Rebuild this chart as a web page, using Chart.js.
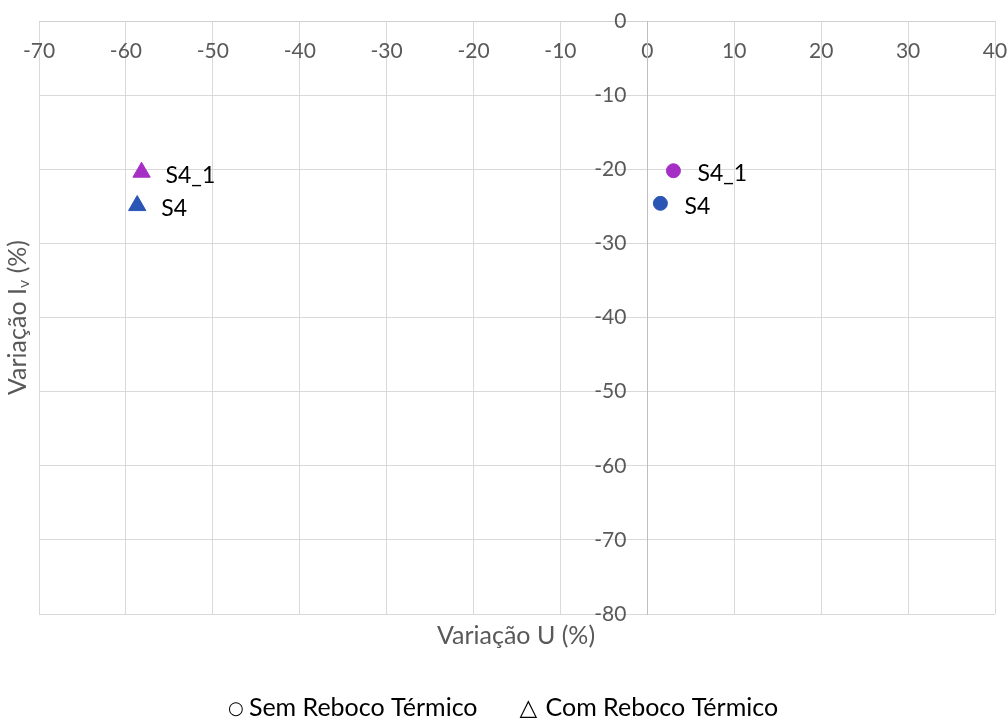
<!DOCTYPE html>
<html lang="pt">
<head>
<meta charset="utf-8">
<title>Variação U x Variação Iv</title>
<script src="https://cdn.jsdelivr.net/npm/chart.js@4.4.0/dist/chart.umd.min.js"></script>
<style>
  html, body { margin: 0; padding: 0; background: #fff; }
  #wrap { position: relative; width: 1008px; height: 719px; }
</style>
</head>
<body>
<div id="wrap"><canvas id="grafico"></canvas></div>
<script>
// pontos por cenário: rótulo, variação U (%) e variação Iv (%)
const rotulos = ['S4', 'S4_1'];
const coresPontos = ['#2B55B5', '#A52FC4'];

const semRebocoU = [1.5, 3.0];
const semRebocoIv = [-24.6, -20.2];

const comRebocoU = [-58.7, -58.2];
const comRebocoIv = [-24.9, -20.4];

const ticksX = [-70, 40];
const ticksY = [-80, 0];

const tituloX = 'Variação U (%)';
const legendaTextos = ['Sem Reboco Térmico', 'Com Reboco Térmico'];
const legendaSimbolos = ['○', '△'];

const fonte = 'Lato, "Liberation Sans", sans-serif';
const cinza = '#595959';

function pares(xs, ys) {
  return xs.map((x, i) => ({ x: x, y: ys[i], rotulo: rotulos[i] }));
}

// os eixos cruzam no meio do gráfico: não ocupam espaço no layout
function semEspaco(scale) {
  if (scale.isHorizontal()) scale.height = 0; else scale.width = 0;
  scale.paddingTop = scale.paddingBottom = 0;
  scale.paddingLeft = scale.paddingRight = 0;
}

// rótulos dos pontos, títulos dos eixos e legenda
const extras = {
  id: 'extras',
  afterDatasetsDraw(chart) {
    const ctx = chart.ctx;
    ctx.save();
    ctx.fillStyle = '#000';
    ctx.font = '23px ' + fonte;
    ctx.textAlign = 'left';
    ctx.textBaseline = 'middle';
    chart.data.datasets.forEach((ds, i) => {
      const meta = chart.getDatasetMeta(i);
      meta.data.forEach((el, j) => {
        ctx.fillText(ds.data[j].rotulo, el.x + 24, el.y + 3);
      });
    });
    ctx.restore();
  },
  afterDraw(chart) {
    const ctx = chart.ctx;
    const area = chart.chartArea;
    ctx.save();

    // título do eixo horizontal
    ctx.fillStyle = cinza;
    ctx.font = '25px ' + fonte;
    ctx.textAlign = 'center';
    ctx.textBaseline = 'middle';
    ctx.fillText(tituloX, 516, area.bottom + 22);

    // título do eixo vertical, com o v subscrito
    ctx.translate(18, (area.top + area.bottom) / 2);
    ctx.rotate(-Math.PI / 2);
    const partes = [
      { t: 'Variação I', f: '25px ' + fonte, dy: 0 },
      { t: 'v', f: '16px ' + fonte, dy: 6 },
      { t: ' (%)', f: '25px ' + fonte, dy: 0 }
    ];
    let total = 0;
    partes.forEach(p => { ctx.font = p.f; total += ctx.measureText(p.t).width; });
    let cx = -total / 2;
    ctx.textAlign = 'left';
    partes.forEach(p => {
      ctx.font = p.f;
      ctx.fillText(p.t, cx, p.dy);
      cx += ctx.measureText(p.t).width;
    });
    ctx.setTransform(1, 0, 0, 1, 0, 0);

    // legenda: símbolo vazado seguido do nome da série
    ctx.fillStyle = '#000';
    ctx.textBaseline = 'middle';
    ctx.textAlign = 'left';
    const yLeg = 708;
    const gap = 44;
    const simbFonte = ['18px "DejaVu Sans", sans-serif', '23px "DejaVu Sans", sans-serif'];
    const simbLarg = [19, 24];
    ctx.font = '25px ' + fonte;
    const larguras = legendaTextos.map(t => ctx.measureText(t).width);
    const totalLeg = larguras[0] + larguras[1] + simbLarg[0] + simbLarg[1] + gap;
    let lx = (chart.width - totalLeg) / 2;
    legendaTextos.forEach((t, i) => {
      ctx.font = simbFonte[i];
      ctx.fillText(legendaSimbolos[i], lx - 2, yLeg + 1);
      ctx.font = '25px ' + fonte;
      ctx.fillText(t, lx + simbLarg[i], yLeg);
      lx += simbLarg[i] + larguras[i] + gap;
    });
    ctx.restore();
  }
};

new Chart(document.getElementById('grafico'), {
  type: 'scatter',
  data: {
    datasets: [
      {
        label: legendaTextos[0],
        data: pares(semRebocoU, semRebocoIv),
        pointStyle: 'circle',
        pointRadius: 7,
        borderWidth: 1,
        backgroundColor: coresPontos,
        borderColor: coresPontos
      },
      {
        label: legendaTextos[1],
        data: pares(comRebocoU, comRebocoIv),
        pointStyle: 'triangle',
        pointRadius: 10,
        borderWidth: 1,
        backgroundColor: coresPontos,
        borderColor: coresPontos
      }
    ]
  },
  options: {
    responsive: true,
    maintainAspectRatio: false,
    animation: false,
    layout: { padding: { top: 21, left: 39, right: 13, bottom: 105 } },
    plugins: {
      legend: { display: false },
      tooltip: { enabled: false }
    },
    scales: {
      x: {
        type: 'linear',
        position: { y: 0 },
        min: ticksX[0],
        max: ticksX[1],
        afterFit: semEspaco,
        ticks: { stepSize: 10, color: cinza, font: { family: fonte, size: 21 }, padding: 18, maxRotation: 0 },
        grid: { color: '#d9d9d9', lineWidth: 1, drawTicks: false },
        border: { color: '#d0d0d0', width: 1 }
      },
      y: {
        type: 'linear',
        position: { x: 0 },
        min: ticksY[0],
        max: ticksY[1],
        afterFit: semEspaco,
        // o rótulo fica encostado ao eixo; os espaços afastam-no
        ticks: { stepSize: 10, color: cinza, font: { family: fonte, size: 21 }, callback: v => v + '\u2002\u2002' },
        grid: { color: '#d9d9d9', lineWidth: 1, drawTicks: false },
        border: { color: '#bfbfbf', width: 1 }
      }
    }
  },
  plugins: [extras]
});
</script>
</body>
</html>
